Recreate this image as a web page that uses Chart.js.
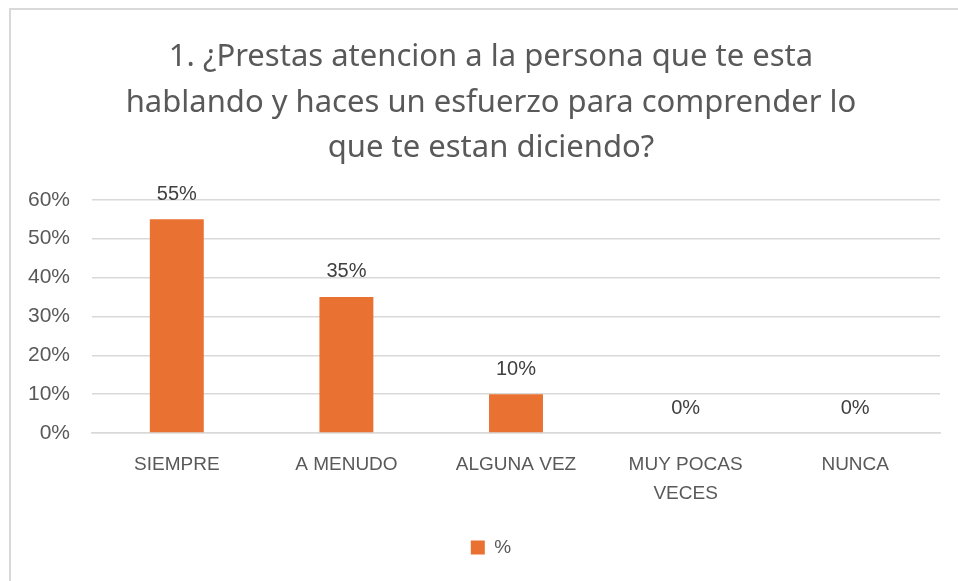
<!DOCTYPE html>
<html>
<head>
<meta charset="utf-8">
<script src="https://cdn.jsdelivr.net/npm/chart.js@4.4.1/dist/chart.umd.min.js"></script>
<style>
html,body{margin:0;padding:0;background:#fff;overflow:hidden;width:958px;height:581px;}
#frame{position:absolute;left:9px;top:8px;width:1000px;height:1000px;border:2px solid #d9d9d9;}
#wrap{position:absolute;left:0;top:0;width:958px;height:581px;}
</style>
</head>
<body>
<div id="frame"></div>
<div id="wrap"><canvas id="c" width="958" height="581"></canvas></div>
<script>
const titleLines = ['1. ¿Prestas atencion a la persona que te esta', 'hablando y haces un esfuerzo para comprender lo', 'que te estan diciendo?'];
const categories = ['SIEMPRE', 'A MENUDO', 'ALGUNA VEZ', ['MUY POCAS', 'VECES'], 'NUNCA'];
const seriesName = '%';
const values = [55, 35, 10, 0, 0];
const yTicks = [0, 10, 20, 30, 40, 50, 60];

const textColor = '#595959';
const barColor = '#E97132';

const dataLabels = {
  id: 'dataLabels',
  afterDatasetsDraw(chart) {
    const ctx = chart.ctx;
    ctx.save();
    ctx.font = '20px "Liberation Sans", Arial, sans-serif';
    ctx.fillStyle = '#404040';
    ctx.textAlign = 'center';
    ctx.textBaseline = 'middle';
    chart.data.datasets.forEach((ds, i) => {
      chart.getDatasetMeta(i).data.forEach((bar, j) => {
        ctx.fillText(ds.data[j] + '%', bar.x, bar.y - 25);
      });
    });
    ctx.restore();
  }
};

// centre title and legend over the frame rather than the whole canvas
const shiftBlocks = {
  id: 'shiftBlocks',
  afterLayout(chart) {
    if (chart.titleBlock) chart.titleBlock.left += 42;
    if (chart.legend) {
      chart.legend.left += 42;
      chart.legend.adjustHitBoxes && chart.legend.adjustHitBoxes();
    }
  }
};

new Chart(document.getElementById('c'), {
  type: 'bar',
  data: {
    labels: categories,
    datasets: [{
      label: seriesName,
      data: values,
      backgroundColor: barColor,
      borderWidth: 0,
      categoryPercentage: 1,
      barPercentage: 0.318
    }]
  },
  options: {
    responsive: false,
    animation: false,
    layout: { padding: { left: 0, right: 18, top: 0, bottom: 14 } },
    plugins: {
      title: {
        display: true,
        text: titleLines,
        color: textColor,
        font: { family: '"Noto Sans", sans-serif', size: 31, weight: 'normal', lineHeight: 1.46 },
        padding: { top: 35, bottom: 29 }
      },
      legend: {
        position: 'bottom',
        labels: {
          color: textColor,
          font: { family: '"Liberation Sans", Arial, sans-serif', size: 19 },
          boxWidth: 14,
          boxHeight: 14,
          padding: 10
        }
      },
      tooltip: { enabled: false }
    },
    scales: {
      y: {
        min: 0,
        max: 60,
        afterFit(scale) { scale.width = 92; },
        afterBuildTicks(scale) { scale.ticks = yTicks.map(v => ({ value: v })); },
        ticks: {
          color: textColor,
          padding: 22,
          font: { family: '"Liberation Sans", Arial, sans-serif', size: 21 },
          callback: v => v + '%'
        },
        grid: { color: '#d9d9d9', lineWidth: 1.5, drawTicks: false },
        border: { display: false }
      },
      x: {
        afterFit(scale) { scale.height = 95; },
        ticks: {
          color: textColor,
          padding: 18,
          maxRotation: 0,
          autoSkip: false,
          font: { family: '"Liberation Sans", Arial, sans-serif', size: 19, lineHeight: 1.5 }
        },
        grid: { display: false, drawTicks: false },
        border: { display: true, color: '#d9d9d9', width: 1.5 }
      }
    }
  },
  plugins: [dataLabels, shiftBlocks]
});
</script>
</body>
</html>
